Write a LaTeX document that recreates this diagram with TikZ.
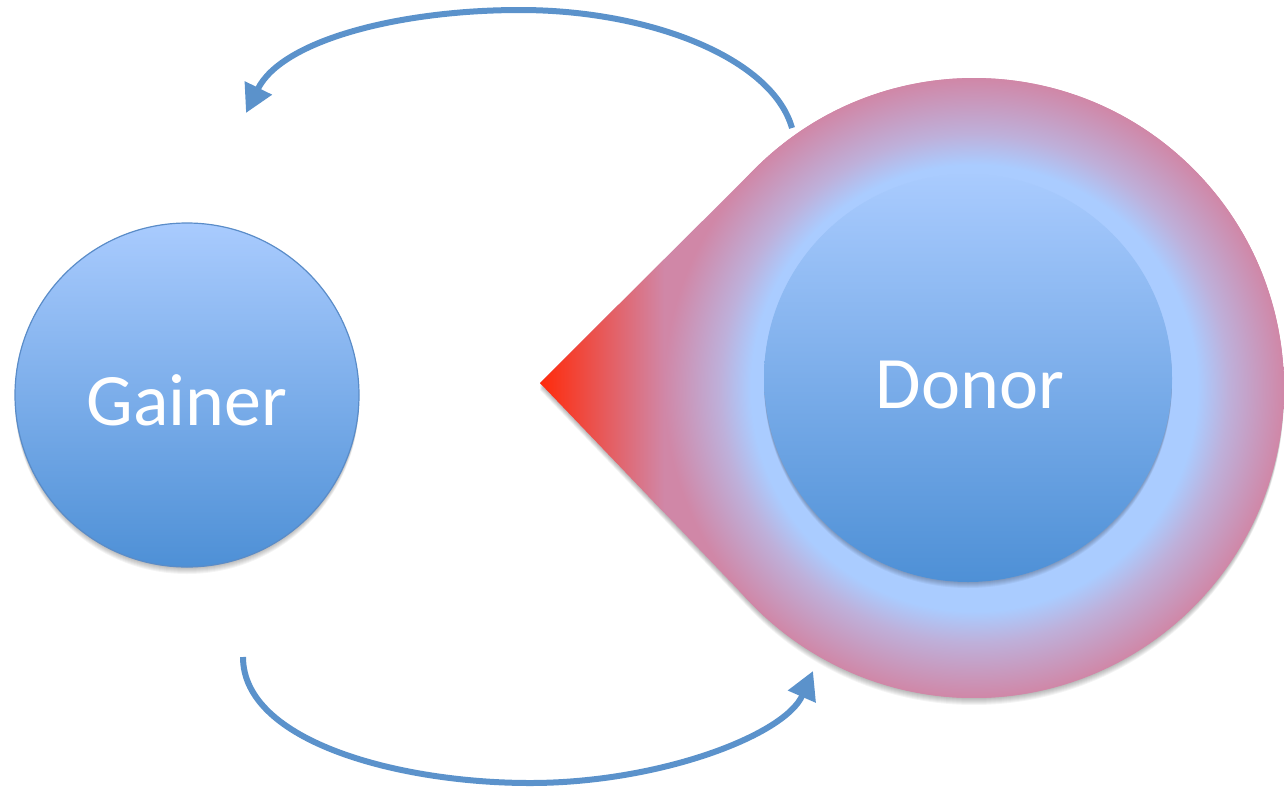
\documentclass[tikz,border=0pt]{standalone}
\usepackage{fontspec}
\setmainfont{Carlito}
\usetikzlibrary{arrows.meta}

\definecolor{ballTop}{HTML}{A9CBFE}
\definecolor{ballBottom}{HTML}{4E90D6}
\definecolor{ballEdge}{HTML}{5A8CC8}
\definecolor{ringBlue}{HTML}{AACCFF}
\definecolor{ringLav}{HTML}{BEB0DA}
\definecolor{ringPink}{HTML}{D087A7}
\definecolor{tipRed}{HTML}{FF2A0A}
\definecolor{tipMid}{HTML}{E84C60}
\definecolor{flowBlue}{HTML}{5B92CB}

% halo around the donor: light blue core fading to pink at the rim
\pgfdeclareradialshading{donorhalo}{\pgfpoint{0bp}{0bp}}{%
  color(0bp)=(ringBlue); color(18bp)=(ringBlue);
  color(20.5bp)=(ringLav); color(25bp)=(ringPink); color(50bp)=(ringPink)}

\tikzset{
  ball/.style={circle, inner sep=0pt, top color=ballTop, bottom color=ballBottom},
  label text/.style={text=white, font=\fontsize{74}{80}\selectfont, anchor=base, inner sep=0pt},
  flow/.style={draw=flowBlue, line width=6pt,
    -{Triangle[length=28pt,width=29pt]}},
  softshadow/.style={fill=black, opacity=0.045}
}

\begin{document}
\begin{tikzpicture}[x=1pt,y=-1pt]
\useasboundingbox (0,0) rectangle (1284,790);

% key points of the drop-shaped donor region
\coordinate (tip) at (540,383);
\coordinate (dc) at (974,388);

% soft shadows
\foreach \d in {1,...,7}{
  \fill[softshadow] ([yshift=-\d pt]tip) -- ([shift={(-135.5:310)},yshift=-\d pt]dc)
     arc[start angle=-135.5,end angle=135.5,radius=310] -- cycle;
  \fill[softshadow] (187,395+\d) circle (172);
}

% drop-shaped halo
\begin{scope}
  \clip (tip) -- ([shift={(-135.5:310)}]dc)
     arc[start angle=-135.5,end angle=135.5,radius=310] -- cycle;
  \fill[ringPink] (540,0) rectangle (1284,790);
  \shade[left color=tipRed, middle color=tipMid, right color=ringPink]
     (540,0) rectangle (664,790);
  \shade[shading=donorhalo] (dc) circle (310);
\end{scope}

% inner donor shadow
\foreach \d in {1,...,6}{
  \fill[softshadow] (968,378+\d) circle (204);
}

% Gainer
\node[ball, draw=ballEdge, line width=1.2pt, minimum size=344pt] (gainer) at (187,395) {};
\node[label text] (gainertext) at (187,425) {Gainer};

% Donor
\node[ball, minimum size=408pt] (donor) at (968,378) {};
\node[label text] (donortext) at (970,408) {Donor};

% exchange arrows
\coordinate (topstart) at (792,128);
\coordinate (topend) at (246,113);
\coordinate (botstart) at (243,657);
\coordinate (botend) at (813,671);

\draw[flow] (topstart) .. controls (772,58) and (650,10) .. (520,10)
  .. controls (400,10) and (282,40) .. (topend);
\draw[flow] (botstart) .. controls (243,742) and (400,783) .. (530,783)
  .. controls (660,783) and (785,735) .. (botend);
\end{tikzpicture}
\end{document}
